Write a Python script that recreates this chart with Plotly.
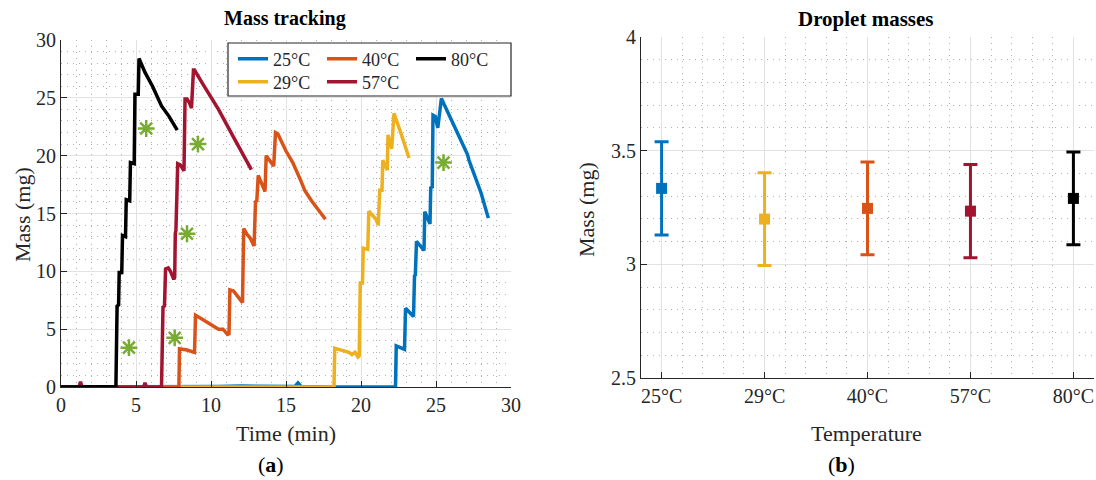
import plotly.graph_objects as go

# ---------------- data: panel (a) mass tracking ----------------
series_names = ["25°C", "29°C", "40°C", "57°C", "80°C"]
series_colors = ["#0072BD", "#EDB120", "#D95319", "#A2142F", "#000000"]

time_25 = [0, 8, 10.5, 12, 13.5, 15.6, 15.8, 16.0, 18, 22.3, 22.35, 22.9, 22.97, 23.5, 23.57, 23.62,
           23.7, 24.2, 24.25, 24.6, 24.65, 24.75, 24.8, 24.95, 25.12, 25.36, 26.2, 27.1, 27.2, 27.6, 28.0, 28.49]
mass_25 = [0, 0, 0.05, 0.08, 0.05, 0.05, 0.35, 0.05, 0, 0, 3.55, 3.25, 6.8, 6.1, 9.7, 9.6,
           12.6, 11.8, 15.15, 14.1, 17.3, 17.2, 23.5, 23.4, 22.4, 24.95, 22.6, 20.1, 19.6, 18.2, 16.8, 14.6]

time_29 = [0, 8, 12, 16, 18.2, 18.25, 18.6, 18.9, 19.2, 19.4, 19.6, 19.8, 19.88, 19.95, 20.1, 20.15,
           20.45, 20.52, 21.0, 21.15, 21.25, 21.4, 21.45, 21.75, 21.8, 22.05, 22.2, 22.7, 23.2]
mass_29 = [0, 0, 0.03, 0.02, 0, 3.35, 3.2, 3.1, 3.0, 2.8, 3.0, 2.6, 2.7, 9.0, 9.0, 12.0,
           11.9, 15.2, 14.5, 14.0, 17.0, 17.0, 19.6, 18.75, 21.8, 20.6, 23.65, 21.8, 19.8]

time_40 = [0, 3.7, 6.8, 7.86, 7.9, 8.4, 8.9, 8.97, 9.5, 10.5, 10.8, 11.1, 11.2, 11.26, 11.5, 12.1,
           12.18, 12.4, 12.6, 12.87, 12.97, 13.05, 13.15, 13.4, 13.6, 13.68, 13.9, 14.18, 14.3, 14.45,
           15.0, 15.45, 16.0, 16.25, 16.7, 17.2, 17.63]
mass_40 = [0, 0, 0, 0, 3.3, 3.2, 3.0, 6.2, 5.8, 5.0, 5.0, 4.55, 4.6, 8.4, 8.3, 7.3,
           13.7, 13.2, 12.9, 12.2, 16.1, 16.0, 18.3, 17.5, 16.9, 20.0, 19.6, 19.1, 22.0, 21.9,
           20.4, 19.4, 17.8, 17.0, 16.1, 15.3, 14.5]

time_57 = [0, 1.2, 1.3, 1.4, 3.7, 5.5, 5.6, 5.7, 6.7, 6.75, 6.8, 6.9, 6.97, 7.15, 7.3, 7.52, 7.58,
           7.62, 7.66, 7.72, 7.78, 7.95, 8.2, 8.27, 8.4, 8.55, 8.7, 8.83, 8.9, 9.5, 10.5, 11.5, 12.69]
mass_57 = [0, 0, 0.45, 0, 0, 0, 0.35, 0, 0, 3.5, 6.9, 7.0, 10.2, 10.3, 10.0, 9.3, 9.5,
           13.3, 13.5, 16.3, 19.3, 19.2, 18.7, 24.9, 24.9, 24.6, 24.1, 27.4, 27.4, 26.1, 24.0, 21.6, 18.8]

time_80 = [0, 1.0, 2.0, 3.0, 3.66, 3.70, 3.74, 3.84, 3.88, 4.05, 4.10, 4.30, 4.35, 4.58, 4.63, 4.88,
           4.93, 5.15, 5.20, 5.6, 6.1, 6.7, 7.2, 7.75]
mass_80 = [0, 0.03, 0, 0.03, 0, 3.6, 7.0, 7.1, 9.9, 9.9, 13.1, 13.0, 16.2, 16.1, 19.4, 19.3,
           25.3, 25.3, 28.4, 27.2, 26.0, 24.3, 23.4, 22.2]

series_times = [time_25, time_29, time_40, time_57, time_80]
series_masses = [mass_25, mass_29, mass_40, mass_57, mass_80]

star_time = [4.53, 5.68, 7.58, 8.40, 9.13, 25.5]
star_mass = [3.4, 22.35, 4.25, 13.25, 21.0, 19.4]

# ---------------- data: panel (b) droplet masses ----------------
temps = ["25°C", "29°C", "40°C", "57°C", "80°C"]
mean_mass = [3.334, 3.199, 3.246, 3.234, 3.290]
std_mass = [0.205, 0.204, 0.204, 0.205, 0.204]

FONT = "Liberation Serif, Times New Roman, serif"
TICKC = "#262626"
W, H = 1096, 480

def px(x):
    return x / W

def py(y):
    return 1 - y / H

fig = go.Figure()

row1 = {"25°C", "40°C", "80°C"}
for name, col, t, m in zip(series_names, series_colors, series_times, series_masses):
    fig.add_trace(go.Scatter(
        x=t, y=m, mode="lines", name=name,
        line=dict(color=col, width=3.5),
        xaxis="x", yaxis="y",
        legend="legend" if name in row1 else "legend2",
    ))

fig.add_trace(go.Scatter(
    x=star_time, y=star_mass, mode="markers", showlegend=False,
    marker=dict(symbol="asterisk-open", size=14, color="#77AC30",
                line=dict(color="#77AC30", width=2.5)),
    xaxis="x", yaxis="y",
))

xpos = list(range(1, len(temps) + 1))
for xp, mu, sd, col in zip(xpos, mean_mass, std_mass, series_colors):
    fig.add_trace(go.Scatter(
        x=[xp], y=[mu], mode="markers", showlegend=False,
        marker=dict(symbol="square", size=11, color=col),
        error_y=dict(type="data", array=[sd], color=col, thickness=3, width=7),
        xaxis="x2", yaxis="y2",
    ))

axis_common = dict(
    showgrid=True, gridcolor="#e2e2e2", gridwidth=1.2,
    showline=True, linecolor=TICKC, linewidth=1.2, mirror=False,
    ticks="inside", ticklen=6, tickcolor=TICKC, tickwidth=1,
    tickfont=dict(family=FONT, size=20, color=TICKC),
    zeroline=False, automargin=False,
)
minor_grid = dict(showgrid=True, gridcolor="#b0b0b0", griddash="1px,5px", gridwidth=1, ticks="")

fig.update_layout(
    width=W, height=H,
    margin=dict(l=0, r=0, t=0, b=0, autoexpand=False),
    paper_bgcolor="white", plot_bgcolor="white",
    font=dict(family=FONT, color=TICKC),
    xaxis=dict(domain=[px(61), px(511)], range=[0, 30], tick0=0, dtick=5, anchor="y",
               minor=dict(dtick=1, **minor_grid), **axis_common),
    yaxis=dict(domain=[py(387), py(40)], range=[0, 30], tick0=0, dtick=5, anchor="x",
               minor=dict(dtick=1, **minor_grid), **axis_common),
    xaxis2=dict(domain=[px(641), px(1094)], range=[0.8, 5.2], tickmode="array",
                tickvals=xpos, ticktext=temps, anchor="y2",
                minor=dict(tick0=0.8, dtick=0.2, **minor_grid), **axis_common),
    yaxis2=dict(domain=[py(378), py(37)], range=[2.5, 4], tick0=2.5, dtick=0.5, anchor="x2",
                minor=dict(tick0=2.5, dtick=0.1, **minor_grid), **axis_common),
    legend=dict(orientation="h", x=px(233), y=py(59), xanchor="left", yanchor="middle",
                entrywidth=44, entrywidthmode="pixels", bgcolor="rgba(0,0,0,0)",
                font=dict(family=FONT, size=18, color=TICKC), itemwidth=30),
    legend2=dict(orientation="h", x=px(233), y=py(82), xanchor="left", yanchor="middle",
                 entrywidth=44, entrywidthmode="pixels", bgcolor="rgba(0,0,0,0)",
                 font=dict(family=FONT, size=18, color=TICKC), itemwidth=30),
    shapes=[dict(type="rect", xref="paper", yref="paper",
                 x0=px(228), x1=px(511), y0=py(96), y1=py(43),
                 line=dict(color=TICKC, width=1.2), fillcolor="white", layer="above")],
)

def ann(text, x, y, size, angle=0, color="#000000"):
    fig.add_annotation(text=text, x=px(x), y=py(y), xref="paper", yref="paper",
                       showarrow=False, xanchor="center", yanchor="middle",
                       textangle=angle, font=dict(family=FONT, size=size, color=color))

ann("<b>Mass tracking</b>", 285, 19, 20)
ann("<b>Droplet masses</b>", 866, 19, 21)
ann("Time (min)", 286, 433, 22, color=TICKC)
ann("Temperature", 866, 433, 22, color=TICKC)
ann("Mass (mg)", 22, 215, 22, angle=-90, color=TICKC)
ann("Mass (mg)", 586, 210, 22, angle=-90, color=TICKC)
ann("(<b>a</b>)", 271, 464, 22)
ann("(<b>b</b>)", 841, 464, 22)

fig.write_html("out.html", config={"displayModeBar": False},
               post_script="document.body.style.margin='0';document.body.style.overflow='hidden';")
